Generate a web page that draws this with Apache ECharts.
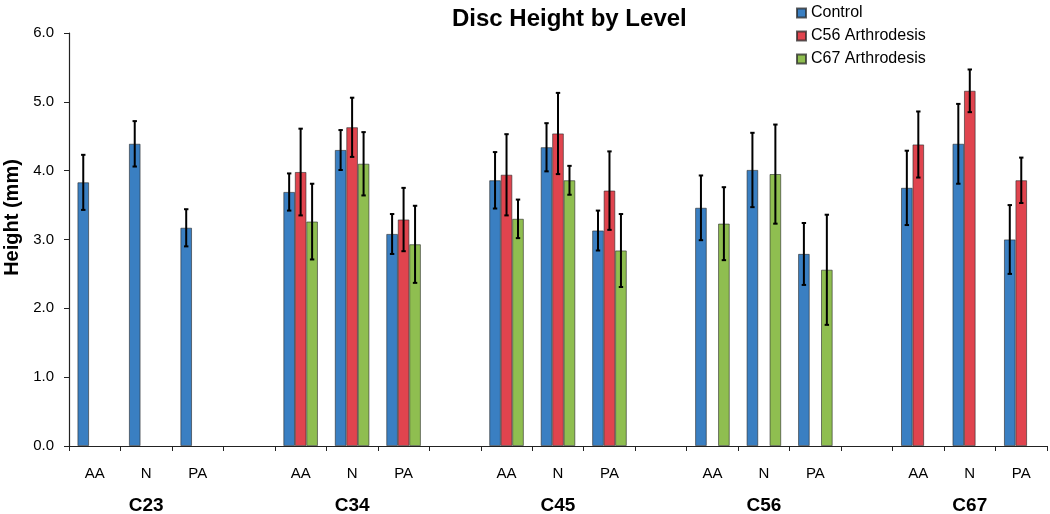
<!DOCTYPE html>
<html>
<head>
<meta charset="utf-8">
<script src="https://cdn.jsdelivr.net/npm/echarts@6/dist/echarts.min.js"></script>
<style>html,body{margin:0;padding:0;background:#fff;}#chart{width:1050px;height:514px;}</style>
</head>
<body>
<div id="chart"></div>
<script>
// ---- data ----
const levels = ['C23', 'C34', 'C45', 'C56', 'C67'];
const positions = ['AA', 'N', 'PA'];
const seriesNames = ['Control', 'C56 Arthrodesis', 'C67 Arthrodesis'];
const yTicks = [0, 1, 2, 3, 4, 5, 6];

// values per level, in order AA, N, PA (null = not measured)
const controlMean = [[3.83, 4.39, 3.17], [3.69, 4.30, 3.08], [3.86, 4.34, 3.13], [3.46, 4.01, 2.79], [3.75, 4.39, 3.00]];
const controlErr  = [[0.40, 0.33, 0.27], [0.27, 0.29, 0.29], [0.41, 0.35, 0.29], [0.47, 0.54, 0.45], [0.54, 0.58, 0.50]];
const c56Mean = [[null, null, null], [3.98, 4.63, 3.29], [3.94, 4.54, 3.71], [null, null, null], [4.38, 5.16, 3.86]];
const c56Err  = [[null, null, null], [0.63, 0.43, 0.46], [0.59, 0.59, 0.57], [null, null, null], [0.48, 0.31, 0.33]];
const c67Mean = [[null, null, null], [3.26, 4.10, 2.93], [3.30, 3.86, 2.84], [3.23, 3.95, 2.56], [null, null, null]];
const c67Err  = [[null, null, null], [0.55, 0.46, 0.56], [0.28, 0.21, 0.53], [0.53, 0.72, 0.80], [null, null, null]];

const colors = ['#3A7FC2', '#E0444E', '#8FBE50'];

// ---- build category axis with blank spacer categories between levels ----
const categories = [];
const levelLabels = [];
levels.forEach((lv, li) => {
  positions.forEach((p, pi) => {
    categories.push(p);
    levelLabels.push(pi === 1 ? lv : '');
  });
  if (li < levels.length - 1) { categories.push(''); levelLabels.push(''); }
});

function flatten(arr) {
  const out = [];
  arr.forEach((g, li) => {
    g.forEach(v => out.push(v === null ? '-' : v));
    if (li < arr.length - 1) out.push('-');
  });
  return out;
}
function errData(meanArr, errArr) {
  const out = [];
  let idx = 0;
  meanArr.forEach((g, li) => {
    g.forEach((v, pi) => {
      if (v !== null) out.push([idx, v, errArr[li][pi]]);
      idx++;
    });
    if (li < meanArr.length - 1) idx++;
  });
  return out;
}

const means = [controlMean, c56Mean, c67Mean];
const errs = [controlErr, c56Err, c67Err];
const BAR_FRAC = 0.223;

const series = [];
means.forEach((m, si) => {
  series.push({
    name: seriesNames[si],
    type: 'bar',
    xAxisIndex: 0,
    data: flatten(m),
    barWidth: (BAR_FRAC * 100) + '%',
    barGap: '0%',
    itemStyle: { color: colors[si], borderColor: 'rgba(40,40,40,0.75)', borderWidth: 0.8 },
    z: 2
  });
});
means.forEach((m, si) => {
  const offFactor = (si - 1) * BAR_FRAC;
  series.push({
    name: seriesNames[si] + ' error',
    type: 'custom',
    xAxisIndex: 0,
    yAxisIndex: 0,
    data: errData(m, errs[si]),
    encode: { x: 0, y: 1 },
    z: 5,
    silent: true,
    renderItem: function (params, api) {
      const idx = api.value(0), v = api.value(1), e = api.value(2);
      const band = api.size([1, 0])[0];
      const top = api.coord([idx, v + e]);
      const bot = api.coord([idx, v - e]);
      const x = top[0] + offFactor * band;
      const cap = 2.2;
      const st = { stroke: '#000', lineWidth: 2 };
      return {
        type: 'group',
        children: [
          { type: 'line', shape: { x1: x, y1: top[1], x2: x, y2: bot[1] }, style: st },
          { type: 'line', shape: { x1: x - cap, y1: top[1], x2: x + cap, y2: top[1] }, style: st },
          { type: 'line', shape: { x1: x - cap, y1: bot[1], x2: x + cap, y2: bot[1] }, style: st }
        ]
      };
    }
  });
});

const FONT = '"Liberation Sans", Arial, Helvetica, sans-serif';

const option = {
  animation: false,
  backgroundColor: '#fff',
  textStyle: { fontFamily: FONT },
  title: {
    text: 'Disc Height by Level',
    left: 447,
    top: 2,
    textStyle: { fontFamily: FONT, fontSize: 24, fontWeight: 'bold', color: '#000' }
  },
  legend: {
    data: seriesNames,
    orient: 'vertical',
    left: 791,
    top: 0,
    itemWidth: 9,
    itemHeight: 9,
    itemGap: 7,
    icon: 'rect',
    textStyle: { fontFamily: FONT, fontSize: 16, color: '#000' }
  },
  grid: { left: 69, right: 3, top: 33, bottom: 68, containLabel: false, outerBoundsMode: 'none' },
  xAxis: [
    {
      type: 'category',
      data: categories,
      position: 'bottom',
      axisLine: { lineStyle: { color: '#222', width: 1.2 } },
      axisTick: { show: true, interval: 0, length: 5, lineStyle: { color: '#222' } },
      axisLabel: { interval: 0, margin: 20, fontFamily: FONT, fontSize: 15, color: '#000' }
    },
    {
      type: 'category',
      data: levelLabels,
      position: 'bottom',
      axisLine: { show: false },
      axisTick: { show: false },
      axisLabel: { interval: 0, margin: 50, fontFamily: FONT, fontSize: 19, fontWeight: 'bold', color: '#000' }
    }
  ],
  yAxis: {
    type: 'value',
    min: yTicks[0],
    max: yTicks[yTicks.length - 1],
    interval: 1,
    name: 'Height (mm)',
    nameLocation: 'middle',
    nameGap: 41,
    nameTextStyle: { fontFamily: FONT, fontSize: 20, fontWeight: 'bold', color: '#000', padding: [0, 0, 0, 44] },
    axisLine: { show: true, lineStyle: { color: '#222', width: 1.2 } },
    axisTick: { show: true, length: 5, lineStyle: { color: '#222' } },
    splitLine: { show: false },
    axisLabel: { margin: 15, fontFamily: FONT, fontSize: 15, color: '#000', formatter: v => v.toFixed(1) }
  },
  series: series
};

const chart = echarts.init(document.getElementById('chart'), null, { renderer: 'canvas' });
chart.setOption(option);
</script>
</body>
</html>
